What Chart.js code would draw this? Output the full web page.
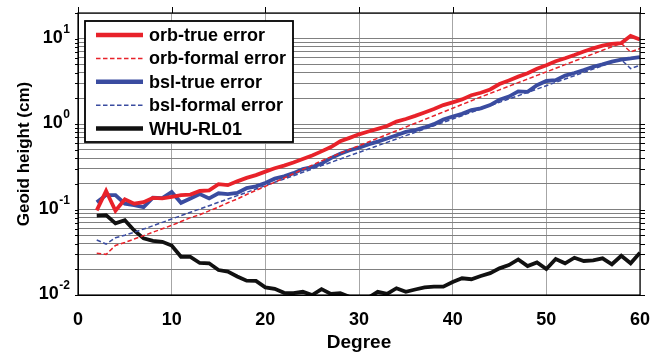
<!DOCTYPE html>
<html><head><meta charset="utf-8">
<script src="https://cdn.jsdelivr.net/npm/chart.js@4.4.1/dist/chart.umd.min.js"></script>
<style>html,body{margin:0;padding:0;background:#fff;}canvas{display:block;}</style>
</head><body>
<canvas id="c" width="652" height="353"></canvas>
<script>
const degrees = [2,3,4,5,6,7,8,9,10,11,12,13,14,15,16,17,18,19,20,21,22,23,24,25,26,27,28,29,30,31,32,33,34,35,36,37,38,39,40,41,42,43,44,45,46,47,48,49,50,51,52,53,54,55,56,57,58,59,60];
const orbTrue = [0.098,0.165,0.097,0.132,0.117,0.122,0.137,0.135,0.141,0.148,
  0.150,0.165,0.168,0.198,0.193,0.214,0.235,0.253,0.278,0.305,
  0.327,0.355,0.39,0.43,0.48,0.54,0.63,0.69,0.76,0.82,
  0.88,0.95,1.07,1.15,1.25,1.37,1.50,1.67,1.80,1.95,
  2.18,2.33,2.55,2.95,3.25,3.6,3.95,4.45,4.9,5.45,
  5.9,6.45,7.1,7.7,8.3,8.7,8.9,10.8,9.8];
const orbFormal = [0.0309,0.0299,0.038,0.0412,0.0452,0.0495,0.0543,0.0596,0.0653,0.0724,
  0.0804,0.0871,0.0966,0.107,0.120,0.133,0.150,0.168,0.187,0.209,
  0.234,0.263,0.295,0.331,0.372,0.414,0.457,0.506,0.560,0.619,
  0.684,0.757,0.836,0.925,1.023,1.132,1.253,1.387,1.535,1.70,
  1.88,2.08,2.29,2.52,2.78,3.06,3.37,3.72,4.09,4.51,
  4.97,5.47,6.03,6.64,7.33,8.04,8.81,7.0,7.67];
const bslTrue = [0.122,0.148,0.148,0.117,0.113,0.107,0.138,0.136,0.161,0.120,
  0.135,0.152,0.135,0.155,0.152,0.157,0.178,0.187,0.205,0.23,
  0.245,0.267,0.298,0.315,0.345,0.40,0.45,0.495,0.53,0.58,
  0.625,0.68,0.74,0.81,0.85,0.915,1.0,1.13,1.23,1.32,
  1.46,1.53,1.67,1.93,2.10,2.42,2.39,2.86,3.2,3.27,
  3.7,3.97,4.3,4.7,5.0,5.4,5.7,5.87,6.1];
const bslFormal = [0.044,0.0395,0.0468,0.0501,0.0543,0.0592,0.0646,0.0708,0.0776,0.0849,
  0.0929,0.1016,0.111,0.1216,0.133,0.1455,0.159,0.174,0.1905,0.2085,
  0.228,0.249,0.273,0.2985,0.3266,0.357,0.391,0.4276,0.4677,0.5117,
  0.56,0.612,0.67,0.733,0.8017,0.877,0.959,1.05,1.148,1.256,
  1.374,1.503,1.644,1.8,1.968,2.153,2.355,2.576,2.818,3.083,
  3.373,3.69,4.036,4.416,4.83,5.28,5.69,4.47,4.9];
const whuRL01 = [0.085,0.086,0.069,0.075,0.057,0.046,0.043,0.042,0.038,0.028,
  0.028,0.0237,0.0235,0.0196,0.0188,0.0165,0.0147,0.0146,0.0123,0.0118,
  0.0106,0.0105,0.0109,0.0100,0.0117,0.0103,0.0105,0.0095,0.0090,0.0093,
  0.0109,0.0103,0.0120,0.0109,0.0116,0.0123,0.0125,0.0125,0.0142,0.0157,
  0.0153,0.0167,0.0180,0.0205,0.0224,0.0261,0.0218,0.0241,0.0201,0.0264,
  0.0235,0.0273,0.0250,0.0255,0.0269,0.0229,0.0288,0.0235,0.0313];
const seriesNames = ['orb-true error','orb-formal error','bsl-true error','bsl-formal error','WHU-RL01'];
const xTickStep = 10;
const yMajorTicks = [0.01, 0.1, 1, 10];
const yTickBase = '10';
const yTickExponents = ['-2', '-1', '0', '1'];
const yMinorMultipliers = [2,3,4,5,6,7,8,9];
const xTitle = 'Degree';
const yTitle = 'Geoid height (cm)';

const F = 'Arial, "Liberation Sans", Helvetica, sans-serif';
const RED = 'rgb(232,34,42)';
const BLUE = 'rgb(58,76,160)';
const BLACK = '#111';

const yGrid = [];
yMajorTicks.forEach(v => { yGrid.push(v); yMinorMultipliers.forEach(m => { const w = +(m * v).toPrecision(6); if (w <= 20) yGrid.push(w); }); });

function mk(label, vals, color, width, dash) {
  return { label, data: degrees.map((d, i) => ({ x: d, y: vals[i] })), borderColor: color, backgroundColor: color,
    borderWidth: width, borderDash: dash, pointRadius: 0, tension: 0, fill: false, borderJoinStyle: 'miter' };
}

const custom = {
  id: 'custom',
  afterDraw(chart) {
    const { ctx, chartArea: a, scales: { x, y } } = chart;
    ctx.save();
    ctx.setLineDash([]);
    ctx.strokeStyle = '#000';
    ctx.lineWidth = 1.2;
    ctx.strokeRect(a.left, a.top, a.right - a.left, a.bottom - a.top);
    ctx.lineWidth = 1;
    yGrid.forEach(v => {
      const py = Math.round(y.getPixelForValue(v)) + 0.5;
      ctx.beginPath(); ctx.moveTo(a.left - 3, py); ctx.lineTo(a.left, py);
      ctx.moveTo(a.right, py); ctx.lineTo(a.right + 5, py); ctx.stroke();
    });
    for (let d = 0; d <= 60; d += xTickStep) {
      const px = Math.round(x.getPixelForValue(d)) + 0.5;
      ctx.beginPath(); ctx.moveTo(px, a.top - 6); ctx.lineTo(px, a.top); ctx.stroke();
    }
    ctx.fillStyle = '#000';
    yMajorTicks.forEach((v, i) => {
      const py = y.getPixelForValue(v);
      const ex = yTickExponents[i];
      ctx.font = 'bold 12px ' + F;
      const ew = ctx.measureText(ex).width;
      const right = 70;
      ctx.textAlign = 'left'; ctx.textBaseline = 'middle';
      ctx.fillText(ex, right - ew, py - 9);
      ctx.font = 'bold 18px ' + F;
      ctx.textAlign = 'right';
      ctx.fillText(yTickBase, right - ew - 0.5, py - 1);
    });
    const lx = a.left + 7, ly = a.top + 8, lw = 208, lh = 121;
    ctx.fillStyle = '#fff';
    ctx.fillRect(lx, ly, lw, lh);
    ctx.lineWidth = 1.8; ctx.strokeStyle = '#000';
    ctx.strokeRect(lx, ly, lw, lh);
    chart.data.datasets.forEach((ds, i) => {
      const ry = ly + 14 + i * 23.4;
      ctx.strokeStyle = ds.borderColor;
      ctx.lineWidth = ds.borderDash.length ? 1.5 : 4.5;
      ctx.setLineDash(ds.borderDash);
      ctx.beginPath(); ctx.moveTo(lx + 11, ry); ctx.lineTo(lx + 58, ry); ctx.stroke();
      ctx.setLineDash([]);
      ctx.fillStyle = '#000';
      ctx.font = 'bold 18px ' + F;
      ctx.textAlign = 'left'; ctx.textBaseline = 'middle';
      ctx.fillText(ds.label, lx + 64, ry + 1);
    });
    ctx.restore();
  }
};

new Chart(document.getElementById('c'), {
  type: 'line',
  data: { datasets: [
    mk(seriesNames[0], orbTrue, RED, 3.8, []),
    mk(seriesNames[1], orbFormal, RED, 1.5, [4.5, 2.5]),
    mk(seriesNames[2], bslTrue, BLUE, 3.8, []),
    mk(seriesNames[3], bslFormal, BLUE, 1.5, [4.5, 2.5]),
    mk(seriesNames[4], whuRL01, BLACK, 3.8, [])
  ] },
  options: {
    responsive: false, animation: false, devicePixelRatio: 1,
    layout: { padding: { top: 13, right: 12, left: 0, bottom: 0 } },
    plugins: { legend: { display: false }, tooltip: { enabled: false } },
    scales: {
      x: { type: 'linear', min: 0, max: 60,
        ticks: { stepSize: xTickStep, font: { family: F, size: 18, weight: 'bold' }, color: '#000', padding: 14, maxRotation: 0 },
        grid: { color: '#a6a6a6', drawTicks: false },
        border: { color: '#000' },
        title: { display: true, text: xTitle, font: { family: F, size: 19, weight: 'bold' }, color: '#000', padding: { top: 0, bottom: -1 } },
        afterFit(s) { s.height = 58; s.paddingLeft = 0; s.paddingRight = 0; } },
      y: { type: 'logarithmic', min: 0.01, max: 20,
        ticks: { display: false },
        afterBuildTicks(s) { s.ticks = yGrid.map(v => ({ value: v })); },
        grid: { color: '#808080', drawTicks: false },
        border: { color: '#000' },
        title: { display: true, text: yTitle, font: { family: F, size: 17, weight: 'bold' }, color: '#000', padding: { top: 14, bottom: 0 } },
        afterFit(s) { s.width = 78; s.paddingTop = 0; s.paddingBottom = 0; } }
    }
  },
  plugins: [custom]
});
</script>
</body></html>
